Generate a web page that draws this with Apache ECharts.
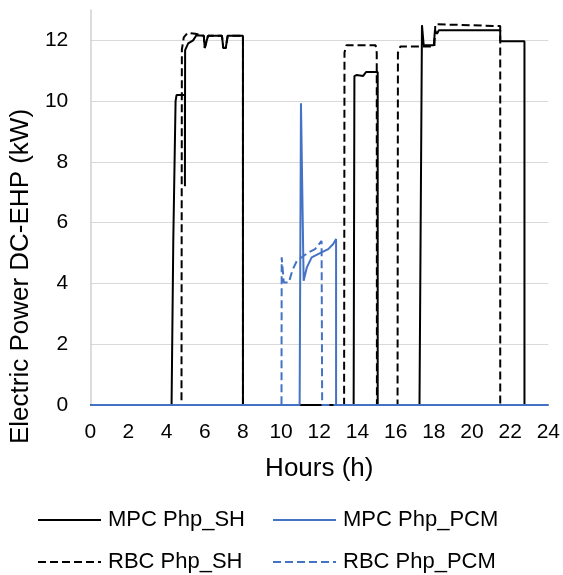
<!DOCTYPE html>
<html>
<head>
<meta charset="utf-8">
<script src="https://cdn.jsdelivr.net/npm/echarts@6/dist/echarts.min.js"></script>
<style>
html,body{margin:0;padding:0;background:#fff;}
#chart{width:563px;height:575px;}
</style>
</head>
<body>
<div id="chart"></div>
<script>
// Hours (h) and power (kW)
const mpcShHours = [0, 4.26, 4.35, 4.47, 4.52, 4.96, 4.96, 4.97, 5.13, 5.39, 5.56, 5.95, 6.0, 6.1, 6.17, 6.9, 6.97, 7.1, 7.2, 8.0, 8.0, 13.8, 13.84, 13.95, 14.3, 14.45, 15.06, 15.06, 17.25, 17.38, 17.47, 18.0, 18.06, 18.17, 18.26, 20.15, 20.24, 20.33, 21.48, 21.48, 22.75, 22.75, 24];
const mpcShValues = [0, 0, 5.4, 10.0, 10.2, 10.2, 7.2, 11.68, 11.9, 12.0, 12.17, 12.15, 11.75, 11.75, 12.15, 12.15, 11.75, 11.75, 12.15, 12.15, 0, 0, 10.82, 10.86, 10.83, 10.96, 10.96, 0, 0, 12.5, 11.84, 11.84, 12.33, 12.22, 12.33, 12.33, 12.27, 12.33, 12.33, 11.97, 11.97, 0, 0];

const rbcShHours = [0, 4.78, 4.8, 4.9, 5.1, 5.5, 5.56, 5.95, 6.0, 6.1, 6.17, 6.9, 6.97, 7.1, 7.2, 8.0, 8.0, 13.3, 13.32, 13.42, 14.95, 15.01, 15.02, 16.1, 16.12, 16.25, 18.03, 18.08, 20.0, 21.48, 21.48, 24];
const rbcShValues = [0, 0, 11.7, 12.1, 12.25, 12.22, 12.17, 12.15, 11.75, 11.75, 12.15, 12.15, 11.75, 11.75, 12.15, 12.15, 0, 0, 11.6, 11.84, 11.84, 11.6, 0, 0, 11.6, 11.8, 11.8, 12.53, 12.5, 12.47, 0, 0];

const mpcPcmHours = [0, 10.97, 11.04, 11.18, 11.35, 11.6, 12.12, 12.47, 12.73, 12.88, 12.88, 24];
const mpcPcmValues = [0, 0, 9.93, 4.09, 4.53, 4.86, 5.02, 5.13, 5.3, 5.46, 0, 0];

const rbcPcmHours = [0, 10.02, 10.03, 10.14, 10.4, 10.6, 10.83, 11.43, 11.78, 12.12, 12.15, 12.15, 24];
const rbcPcmValues = [0, 0, 4.86, 4.03, 4.03, 4.45, 4.75, 5.02, 5.13, 5.4, 5.45, 0, 0];

const seriesNames = ['MPC Php_SH', 'MPC Php_PCM', 'RBC Php_SH', 'RBC Php_PCM'];
const xTicks = [0, 24, 2];   // min, max, interval
const yTicks = [0, 13, 2];

function pairs(h, v) { return h.map((x, i) => [x, v[i]]); }

const BLACK = '#000000';
const BLUE = '#4472C4';
const FONT = 'Liberation Sans, Arial, sans-serif';

const chart = echarts.init(document.getElementById('chart'), null, {renderer: 'canvas'});

function legendAt(name, left, top) {
  return {
    data: [name], left: left, top: top, orient: 'horizontal', padding: 0,
    itemWidth: 63, itemHeight: 14, itemGap: 0, selectedMode: false,
    itemStyle: {opacity: 0, borderWidth: 0},
    textStyle: {fontFamily: FONT, fontSize: 22, color: '#000', lineHeight: 24, padding: [0, 0, 0, 2]}
  };
}

chart.setOption({
  animation: false,
  backgroundColor: '#fff',
  grid: {left: 86, right: 14, top: 10, bottom: 170, containLabel: false},
  legend: [
    legendAt(seriesNames[0], 37, 508),
    legendAt(seriesNames[1], 272, 508),
    legendAt(seriesNames[2], 37, 550),
    legendAt(seriesNames[3], 272, 550)
  ],
  xAxis: {
    type: 'value', min: xTicks[0], max: xTicks[1], interval: xTicks[2],
    name: 'Hours (h)', nameLocation: 'middle', nameGap: 51,
    nameTextStyle: {fontFamily: FONT, fontSize: 26, color: '#000'},
    axisLine: {show: true, lineStyle: {color: '#d9d9d9', width: 1}},
    axisTick: {show: false},
    splitLine: {show: false},
    axisLabel: {fontFamily: FONT, fontSize: 21, color: '#000', margin: 17}
  },
  yAxis: {
    type: 'value', min: yTicks[0], max: yTicks[1], interval: yTicks[2],
    name: 'Electric Power DC-EHP (kW)', nameLocation: 'middle', nameGap: 47,
    nameTextStyle: {fontFamily: FONT, fontSize: 26, color: '#000', padding: [0, 138, 0, 0]},
    axisLine: {show: true, lineStyle: {color: '#d0d0d0', width: 1.5}},
    axisTick: {show: false},
    splitLine: {show: true, showMaxLine: false, lineStyle: {color: '#d9d9d9', width: 1}},
    axisLabel: {fontFamily: FONT, fontSize: 21, color: '#000', margin: 22, showMaxLabel: false,
      formatter: v => (v === yTicks[1] ? '' : String(v))}
  },
  series: [
    {name: seriesNames[0], type: 'line', data: pairs(mpcShHours, mpcShValues), showSymbol: false, symbol: 'none',
      lineStyle: {color: BLACK, width: 2, type: 'solid'}, itemStyle: {color: BLACK}, z: 2},
    {name: seriesNames[2], type: 'line', data: pairs(rbcShHours, rbcShValues), showSymbol: false, symbol: 'none',
      lineStyle: {color: BLACK, width: 2, type: [8, 4]}, itemStyle: {color: BLACK}, z: 3},
    {name: seriesNames[1], type: 'line', data: pairs(mpcPcmHours, mpcPcmValues), showSymbol: false, symbol: 'none',
      lineStyle: {color: BLUE, width: 2, type: 'solid'}, itemStyle: {color: BLUE}, z: 4},
    {name: seriesNames[3], type: 'line', data: pairs(rbcPcmHours, rbcPcmValues), showSymbol: false, symbol: 'none',
      lineStyle: {color: BLUE, width: 2, type: [8, 4]}, itemStyle: {color: BLUE}, z: 5}
  ]
});
</script>
</body>
</html>
